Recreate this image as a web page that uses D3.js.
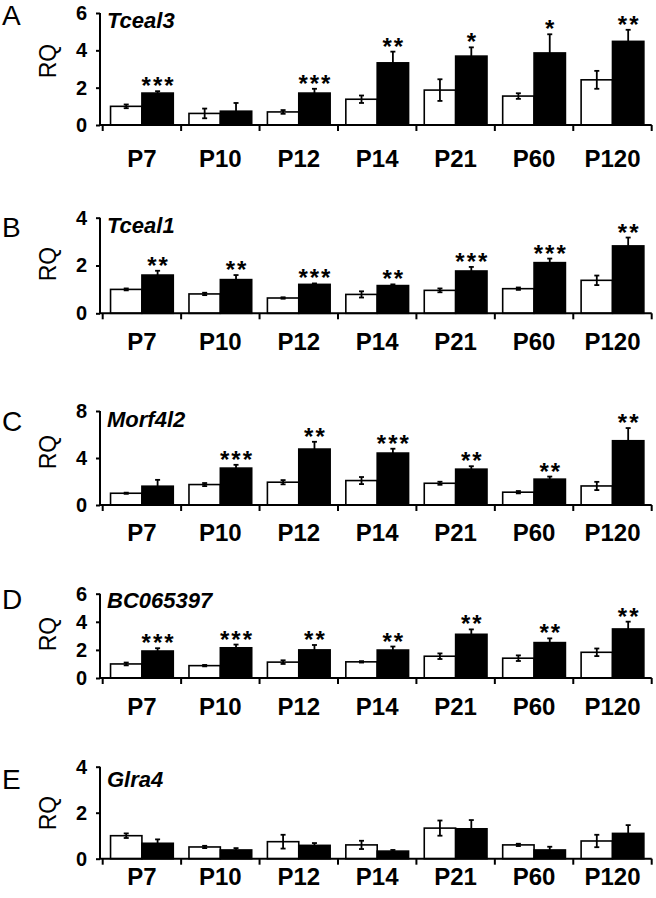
<!DOCTYPE html>
<html>
<head>
<meta charset="utf-8">
<script src="https://cdn.jsdelivr.net/npm/d3@7"></script>
<style>
  body { margin: 0; background: #fff; }
  svg { display: block; font-family: "Liberation Sans", Arial, sans-serif; }
</style>
</head>
<body>
<svg id="chart"></svg>
<script>
// data
var categories = ["P7", "P10", "P12", "P14", "P21", "P60", "P120"];
var genes = ["Tceal3", "Tceal1", "Morf4l2", "BC065397", "Glra4"];
var letters = ["A", "B", "C", "D", "E"];
var yMax = [6, 4, 8, 6, 4];
var yTicks = [[0, 2, 4, 6], [0, 2, 4], [0, 4, 8], [0, 2, 4, 6], [0, 2, 4]];

// white bars (control)
var ctrlMean = [
  [1.0, 0.62, 0.70, 1.38, 1.87, 1.55, 2.42],
  [1.0, 0.81, 0.64, 0.79, 0.96, 1.03, 1.38],
  [1.0, 1.74, 1.94, 2.08, 1.85, 1.09, 1.62],
  [1.0, 0.88, 1.13, 1.15, 1.55, 1.41, 1.83],
  [1.0, 0.51, 0.74, 0.60, 1.33, 0.60, 0.77]
];
var ctrlErr = [
  [0.10, 0.26, 0.10, 0.20, 0.58, 0.15, 0.48],
  [0.04, 0.05, 0.03, 0.13, 0.08, 0.05, 0.20],
  [0.05, 0.13, 0.18, 0.30, 0.13, 0.10, 0.35],
  [0.10, 0.05, 0.13, 0.05, 0.20, 0.20, 0.27],
  [0.10, 0.05, 0.30, 0.18, 0.33, 0.05, 0.27]
];
// black bars
var tgMean = [
  [1.71, 0.74, 1.71, 3.33, 3.69, 3.86, 4.48],
  [1.60, 1.41, 1.21, 1.16, 1.77, 2.12, 2.82],
  [1.60, 3.14, 4.76, 4.42, 3.05, 2.20, 5.47],
  [1.92, 2.15, 2.00, 1.99, 3.11, 2.52, 3.49],
  [0.67, 0.38, 0.58, 0.33, 1.30, 0.38, 1.10]
];
var tgErr = [
  [0.10, 0.44, 0.23, 0.60, 0.47, 1.00, 0.62],
  [0.18, 0.19, 0.04, 0.05, 0.17, 0.17, 0.35],
  [0.54, 0.28, 0.62, 0.37, 0.25, 0.22, 1.08],
  [0.20, 0.23, 0.35, 0.25, 0.35, 0.30, 0.52],
  [0.17, 0.08, 0.10, 0.05, 0.38, 0.14, 0.36]
];
var stars = [
  ["***", "", "***", "**", "*", "*", "**"],
  ["**", "**", "***", "**", "***", "***", "**"],
  ["", "***", "**", "***", "**", "**", "**"],
  ["***", "***", "**", "**", "**", "**", "**"],
  ["", "", "", "", "", "", ""]
];

// panel placement (pixels)
var layout = [
  {top: 13,    zero: 125,   letterY: 25,    titleY: 28,    labelY: 167,   rqY: 61},
  {top: 217.7, zero: 313.3, letterY: 236.5, titleY: 233.3, labelY: 349.5, rqY: 264},
  {top: 411,   zero: 505,   letterY: 430.5, titleY: 426.7, labelY: 541,   rqY: 452},
  {top: 593.7, zero: 678,   letterY: 609,   titleY: 608.3, labelY: 714.5, rqY: 634},
  {top: 766.7, zero: 858.7, letterY: 789,   titleY: 786.7, labelY: 885,   rqY: 813}
];

var W = 656, H = 898;
var axisX = 100;

var svg = d3.select("#chart")
  .attr("width", W)
  .attr("height", H);

var x = d3.scaleBand()
  .domain(categories)
  .range([102.7, 651.7])
  .padding(0);

var xs = d3.scaleBand()
  .domain(["ctrl", "tg"])
  .range([0, x.bandwidth()])
  .paddingInner(0)
  .paddingOuter(0.25);

genes.forEach(function(gene, gi){
  var L = layout[gi];
  var y = d3.scaleLinear().domain([0, yMax[gi]]).range([L.zero, L.top]);
  var g = svg.append("g");

  var rows = categories.map(function(c, i){
    return [
      {cat: c, key: "ctrl", v: ctrlMean[gi][i], e: ctrlErr[gi][i]},
      {cat: c, key: "tg", v: tgMean[gi][i], e: tgErr[gi][i], s: stars[gi][i]}
    ];
  });
  var bars = d3.merge(rows);

  // bars
  g.selectAll("rect.bar").data(bars).enter().append("rect")
    .attr("class", "bar")
    .attr("x", function(d){ return x(d.cat) + xs(d.key); })
    .attr("y", function(d){ return y(d.v); })
    .attr("width", xs.bandwidth())
    .attr("height", function(d){ return L.zero - y(d.v); })
    .attr("fill", function(d){ return d.key == "tg" ? "#000" : "#fff"; })
    .attr("stroke", "#000")
    .attr("stroke-width", 1.6);

  // error bars
  var eb = g.selectAll("g.err").data(bars).enter().append("g")
    .attr("class", "err")
    .attr("transform", function(d){
      return "translate(" + (x(d.cat) + xs(d.key) + xs.bandwidth() / 2) + ",0)";
    })
    .attr("stroke", "#000")
    .attr("stroke-width", 1.8);
  eb.append("line")
    .attr("y1", function(d){ return y(d.v - d.e); })
    .attr("y2", function(d){ return y(d.v + d.e); });
  eb.append("line")
    .attr("x1", -2.5).attr("x2", 2.5)
    .attr("y1", function(d){ return y(d.v + d.e); })
    .attr("y2", function(d){ return y(d.v + d.e); });
  eb.append("line")
    .attr("x1", -2.5).attr("x2", 2.5)
    .attr("y1", function(d){ return y(d.v - d.e); })
    .attr("y2", function(d){ return y(d.v - d.e); });

  // significance stars
  g.selectAll("text.sig").data(bars.filter(function(d){ return d.s; })).enter().append("text")
    .attr("class", "sig")
    .attr("x", function(d){ return x(d.cat) + xs(d.key) + xs.bandwidth() / 2 + 1; })
    .attr("y", function(d){ return y(d.v + d.e) + 3; })
    .attr("text-anchor", "middle")
    .attr("font-size", 24)
    .attr("font-weight", "bold")
    .attr("letter-spacing", 2)
    .text(function(d){ return d.s; });

  // y axis
  var yAxis = g.append("g")
    .attr("transform", "translate(" + axisX + ",0)")
    .call(d3.axisLeft(y).tickValues(yTicks[gi]).tickSize(4).tickPadding(9).tickFormat(d3.format("d")));
  yAxis.select(".domain").attr("stroke-width", 2).attr("d", "M0," + L.top + "V" + L.zero);
  yAxis.selectAll(".tick line").attr("stroke-width", 2);
  yAxis.selectAll(".tick text")
    .attr("font-size", 20)
    .attr("font-weight", "bold")
    .attr("font-family", "Liberation Sans, Arial, sans-serif")
    .attr("fill", "#000");

  // x axis: baseline with ticks at band edges
  g.append("line")
    .attr("x1", axisX - 1).attr("x2", x.range()[1])
    .attr("y1", L.zero).attr("y2", L.zero)
    .attr("stroke", "#000").attr("stroke-width", 2);
  var edges = categories.map(function(c){ return x(c); }).concat([x.range()[1]]);
  g.selectAll("line.xt").data(edges).enter().append("line")
    .attr("class", "xt")
    .attr("x1", function(d){ return d; }).attr("x2", function(d){ return d; })
    .attr("y1", L.zero).attr("y2", L.zero + 6)
    .attr("stroke", "#000").attr("stroke-width", 2);

  g.selectAll("text.cat").data(categories).enter().append("text")
    .attr("class", "cat")
    .attr("x", function(d){ return x(d) + x.bandwidth() / 2; })
    .attr("y", L.labelY)
    .attr("text-anchor", "middle")
    .attr("font-size", 24)
    .attr("font-weight", "bold")
    .text(function(d){ return d; });

  // y title
  g.append("text")
    .attr("transform", "translate(56," + L.rqY + ") rotate(-90)")
    .attr("text-anchor", "middle")
    .attr("font-size", 23)
    .text("RQ");

  // panel letter
  g.append("text")
    .attr("x", 2)
    .attr("y", L.letterY)
    .attr("font-size", 28)
    .text(letters[gi]);

  // gene name
  g.append("text")
    .attr("x", 107)
    .attr("y", L.titleY)
    .attr("font-size", 22)
    .attr("font-weight", "bold")
    .attr("font-style", "italic")
    .text(gene);
});
</script>
</body>
</html>
